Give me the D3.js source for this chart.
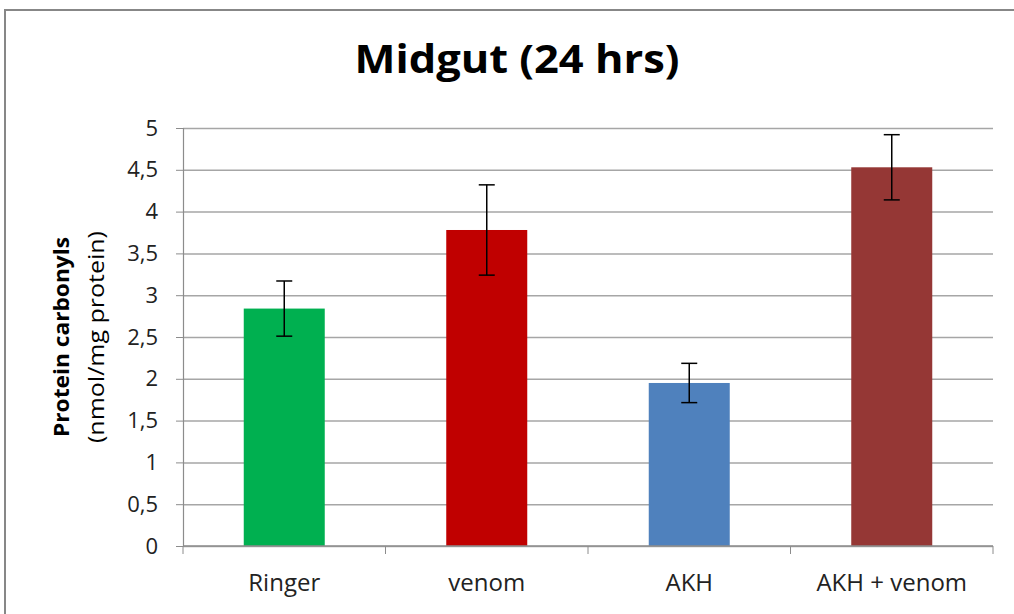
<!DOCTYPE html>
<html>
<head>
<meta charset="utf-8">
<script src="https://cdn.jsdelivr.net/npm/d3@7"></script>
<style>
  body { margin: 0; background: #fff; }
  text { font-family: "Open Sans", Lato, sans-serif; }
</style>
</head>
<body>
<div id="chart"></div>
<script>
const categories = ['Ringer', 'venom', 'AKH', 'AKH + venom'];
const values = [2.84, 3.78, 1.95, 4.53];
const errors = [0.33, 0.54, 0.235, 0.39];
const colors = ['#00B050', '#C00000', '#4F81BD', '#953735'];
const yTicks = [0, 0.5, 1, 1.5, 2, 2.5, 3, 3.5, 4, 4.5, 5];

const width = 1014;
const height = 614;
const margin = { top: 128, right: 21, bottom: 68, left: 183 };

const svg = d3.select('#chart')
  .append('svg')
  .attr('width', width)
  .attr('height', height);

// chart frame
svg.append('rect')
  .attr('x', 5).attr('y', 10)
  .attr('width', width + 20).attr('height', height + 20)
  .attr('fill', 'white')
  .attr('stroke', '#878787')
  .attr('stroke-width', 2);

const xScale = d3.scaleBand()
  .domain(categories)
  .range([margin.left, width - margin.right])
  .paddingInner(0.6)
  .paddingOuter(0.3);

const yScale = d3.scaleLinear()
  .domain([0, 5])
  .range([height - margin.bottom, margin.top]);

// gridlines
svg.append('g')
  .attr('transform', `translate(${margin.left}, 0)`)
  .call(d3.axisLeft(yScale).tickValues(yTicks).tickFormat('').tickSize(-(width - margin.left - margin.right)))
  .call(g => g.select('.domain').remove())
  .call(g => g.selectAll('line').attr('stroke', '#a6a6a6').attr('stroke-width', 1.5));

// y axis
svg.append('g')
  .attr('transform', `translate(${margin.left}, 0)`)
  .call(d3.axisLeft(yScale).tickValues(yTicks).tickSize(7).tickPadding(18)
    .tickFormat(d => String(d).replace('.', ',')))
  .call(g => g.select('.domain').attr('stroke', '#8c8c8c').attr('stroke-width', 1.2))
  .call(g => g.selectAll('line').attr('stroke', '#8c8c8c'))
  .call(g => g.selectAll('text').attr('font-size', 22).attr('fill', '#222'));

// bars
svg.append('g')
  .selectAll('rect')
  .data(values)
  .join('rect')
  .attr('x', (d, i) => xScale(categories[i]))
  .attr('y', d => yScale(d))
  .attr('width', xScale.bandwidth())
  .attr('height', d => yScale(0) - yScale(d))
  .attr('fill', (d, i) => colors[i]);

// x axis (ticks between categories)
const xBound = [margin.left].concat(categories.map((c, i) => margin.left + (i + 1) * (width - margin.left - margin.right) / categories.length));
const xAxis = svg.append('g');
xAxis.append('line')
  .attr('x1', margin.left).attr('x2', width - margin.right)
  .attr('y1', yScale(0)).attr('y2', yScale(0))
  .attr('stroke', '#8c8c8c').attr('stroke-width', 1.5);
xAxis.selectAll('.tick')
  .data(xBound)
  .join('line')
  .attr('x1', d => d).attr('x2', d => d)
  .attr('y1', yScale(0)).attr('y2', yScale(0) + 8)
  .attr('stroke', '#8c8c8c');
xAxis.selectAll('text')
  .data(categories)
  .join('text')
  .attr('x', d => xScale(d) + xScale.bandwidth() / 2)
  .attr('y', 591)
  .attr('text-anchor', 'middle')
  .attr('font-size', 24)
  .attr('fill', '#222')
  .text(d => d);

// error bars
const err = svg.append('g').attr('stroke', '#000').attr('stroke-width', 1.5);
values.forEach((v, i) => {
  const cx = xScale(categories[i]) + xScale.bandwidth() / 2;
  const top = yScale(v + errors[i]);
  const bot = yScale(v - errors[i]);
  err.append('line').attr('x1', cx).attr('x2', cx).attr('y1', top).attr('y2', bot);
  err.append('line').attr('x1', cx - 8).attr('x2', cx + 8).attr('y1', top).attr('y2', top);
  err.append('line').attr('x1', cx - 8).attr('x2', cx + 8).attr('y1', bot).attr('y2', bot);
});

// title
svg.append('text')
  .attr('x', 517)
  .attr('y', 73)
  .attr('text-anchor', 'middle')
  .attr('font-size', 39)
  .attr('font-weight', 'bold')
  .attr('textLength', 325)
  .attr('lengthAdjust', 'spacingAndGlyphs')
  .attr('fill', '#000')
  .text('Midgut (24 hrs)');

// y label
const yLabel = svg.append('g')
  .attr('transform', 'translate(0, 337) rotate(-90)');
yLabel.append('text')
  .attr('x', 0).attr('y', 69)
  .attr('text-anchor', 'middle')
  .attr('font-size', 22)
  .attr('font-weight', 'bold')
  .attr('textLength', 200)
  .attr('lengthAdjust', 'spacingAndGlyphs')
  .text('Protein carbonyls');
yLabel.append('text')
  .attr('x', 0).attr('y', 104)
  .attr('text-anchor', 'middle')
  .attr('font-size', 22)
  .attr('textLength', 212)
  .attr('lengthAdjust', 'spacingAndGlyphs')
  .text('(nmol/mg protein)');
</script>
</body>
</html>
